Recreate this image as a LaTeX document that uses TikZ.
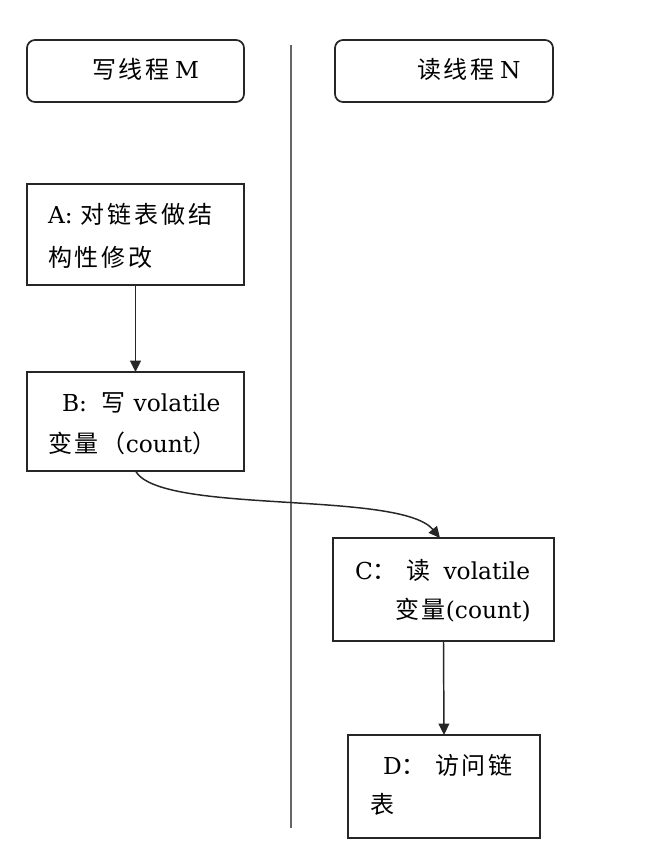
\documentclass[tikz,border=0pt]{standalone}
\usepackage{fontspec}
\setmainfont{DejaVu Serif}
\newfontfamily\cjkfam[LetterSpace=12]{Noto Sans CJK SC}
\newcommand\zh[1]{{\fontsize{18}{21}\cjkfam #1}}
\usetikzlibrary{arrows.meta}
\begin{document}
\begin{tikzpicture}[x=0.75pt,y=-0.75pt,
  box/.style={draw=black!85,line width=1.3pt,inner sep=0pt,outer sep=0pt,fill=white},
  rbox/.style={box,rounded corners=6pt},
  txt/.style={anchor=west,inner sep=0pt,outer sep=0pt,text height=13pt,text depth=3pt,font=\fontsize{17.5}{21}\selectfont},
  arr/.style={line width=1.1pt,black!85,-{Triangle[width=8pt,length=8.5pt]}}]
\useasboundingbox[fill=white] (0,0) rectangle (654,858);
% divider
\draw[line width=1.2pt,black!60] (291,45) coordinate (d1) -- (291,828) coordinate (d2);
% header boxes
\node[rbox,minimum width={217*0.75pt},minimum height={62*0.75pt}] (M) at (135.5,71) {};
\node[rbox,minimum width={218*0.75pt},minimum height={62*0.75pt}] (N) at (444,71) {};
\node[txt] (Mt) at (92,72) {\zh{写线程}\hspace{4pt}M};
\node[txt] (Nt) at (417,72) {\zh{读线程}\hspace{4pt}N};
% boxes
\node[box,minimum width={217*0.75pt},minimum height={101*0.75pt}] (A) at (135.5,234.5) {};
\node[box,minimum width={217*0.75pt},minimum height={99*0.75pt}] (B) at (135.5,421.5) {};
\node[box,minimum width={221*0.75pt},minimum height={103*0.75pt}] (C) at (443.5,589.5) {};
\node[box,minimum width={192*0.75pt},minimum height={103*0.75pt}] (D) at (444,786.5) {};
% texts
\node[txt] (A1) at (48,217) {A:\hspace{6pt}\zh{对链表做结}};
\node[txt] (A2) at (48,260) {\zh{构性修改}};
\node[txt] (B1) at (62,405) {B:\hspace{11pt}\zh{写}\hspace{6pt}volatile};
\node[txt] (B2) at (48,446) {\zh{变量（}count\zh{）}};
\node[txt] (C1) at (355,573) {C\zh{：}\hspace{7pt}\zh{读}\hspace{10pt}volatile};
\node[txt] (C2) at (395,612) {\zh{变量}(count)};
\node[txt] (D1) at (383,768) {D\zh{：}\hspace{7pt}\zh{访问链}};
\node[txt] (D2) at (370,807) {\zh{表}};
% connectors
\draw[arr] (A.south) -- (B.north);
\draw[arr] (B.south) .. controls +(25,44) and +(-40,-48) .. ([xshift=-3.5*0.75pt]C.north);
\draw[arr] (C.south) -- (D.north);
\end{tikzpicture}
\end{document}
